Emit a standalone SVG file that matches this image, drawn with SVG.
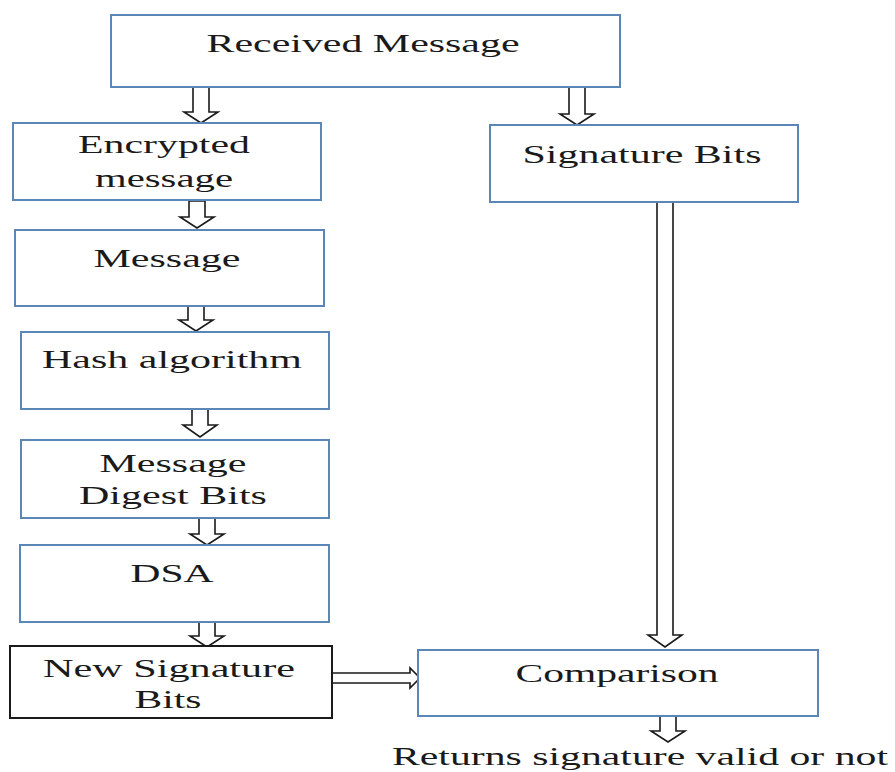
<svg xmlns="http://www.w3.org/2000/svg" width="895" height="772" viewBox="0 0 895 772">
  <defs>
    <style>
      .box { fill: #ffffff; stroke: #5a86b8; stroke-width: 2; }
      .box-dark { fill: #ffffff; stroke: #1a1a1a; stroke-width: 2; }
      .lbl { font-family: "Liberation Serif", "Times New Roman", serif; font-size: 25px; fill: #1a1a1a; text-anchor: middle; }
      .blk { fill: #ffffff; stroke: #1a1a1a; stroke-width: 1.6; stroke-linejoin: miter; }
    </style>
  </defs>
  <rect width="895" height="772" fill="#ffffff"/>

  <!-- hollow block-arrow connectors -->
  <g id="connectors">
    <path class="blk" d="M193,87 H209 V112 H218 L201,123 L184,112 H193 Z"/>
    <path class="blk" d="M569,87 H585 V114 H594 L577,125 L560,114 H569 Z"/>
    <path class="blk" d="M189,201 H205 V217 H214 L197,228 L180,217 H189 Z"/>
    <path class="blk" d="M188,306 H204 V320 H213 L196,331 L179,320 H188 Z"/>
    <path class="blk" d="M192,409 H208 V425 H217 L200,437 L183,425 H192 Z"/>
    <path class="blk" d="M199,518 H215 V534 H224 L207,545 L190,534 H199 Z"/>
    <path class="blk" d="M199,622 H215 V636 H224 L207,647 L190,636 H199 Z"/>
    <path class="blk" d="M657,202 H673 V635 H682 L665,647 L648,635 H657 Z"/>
    <path class="blk" d="M660,716 H676 V731 H685 L668,742 L651,731 H660 Z"/>
    <path class="blk" d="M332,673 H410 V668 L420,678 L410,688 V683 H332 Z"/>
  </g>

  <g id="received-message">
    <rect class="box" x="111" y="15" width="509" height="72"/>
    <text class="lbl" x="363" y="52" textLength="313" lengthAdjust="spacingAndGlyphs">Received Message</text>
  </g>

  <g id="encrypted-message">
    <rect class="box" x="13" y="123" width="308" height="77"/>
    <text class="lbl" x="164" y="153" textLength="172" lengthAdjust="spacingAndGlyphs">Encrypted</text>
    <text class="lbl" x="164" y="187" textLength="138" lengthAdjust="spacingAndGlyphs">message</text>
  </g>

  <g id="signature-bits">
    <rect class="box" x="490" y="125" width="308" height="77"/>
    <text class="lbl" x="642" y="163" textLength="239" lengthAdjust="spacingAndGlyphs">Signature Bits</text>
  </g>

  <g id="message">
    <rect class="box" x="15" y="230" width="309" height="76"/>
    <text class="lbl" x="167" y="267" textLength="147" lengthAdjust="spacingAndGlyphs">Message</text>
  </g>

  <g id="hash-algorithm">
    <rect class="box" x="21" y="332" width="308" height="77"/>
    <text class="lbl" x="172" y="368" textLength="260" lengthAdjust="spacingAndGlyphs">Hash algorithm</text>
  </g>

  <g id="message-digest-bits">
    <rect class="box" x="21" y="440" width="308" height="78"/>
    <text class="lbl" x="173" y="472" textLength="147" lengthAdjust="spacingAndGlyphs">Message</text>
    <text class="lbl" x="173" y="504" textLength="188" lengthAdjust="spacingAndGlyphs">Digest Bits</text>
  </g>

  <g id="dsa">
    <rect class="box" x="20" y="545" width="309" height="77"/>
    <text class="lbl" x="172" y="582" textLength="83" lengthAdjust="spacingAndGlyphs">DSA</text>
  </g>

  <g id="new-signature-bits">
    <rect class="box-dark" x="10" y="646" width="322" height="72"/>
    <text class="lbl" x="169" y="677" textLength="252" lengthAdjust="spacingAndGlyphs">New Signature</text>
    <text class="lbl" x="168" y="708" textLength="67" lengthAdjust="spacingAndGlyphs">Bits</text>
  </g>

  <g id="comparison">
    <rect class="box" x="418" y="650" width="400" height="66"/>
    <text class="lbl" x="617" y="682" textLength="203" lengthAdjust="spacingAndGlyphs">Comparison</text>
  </g>

  <g id="result">
    <text class="lbl" x="640" y="765" textLength="496" lengthAdjust="spacingAndGlyphs">Returns signature valid or not</text>
  </g>
</svg>
